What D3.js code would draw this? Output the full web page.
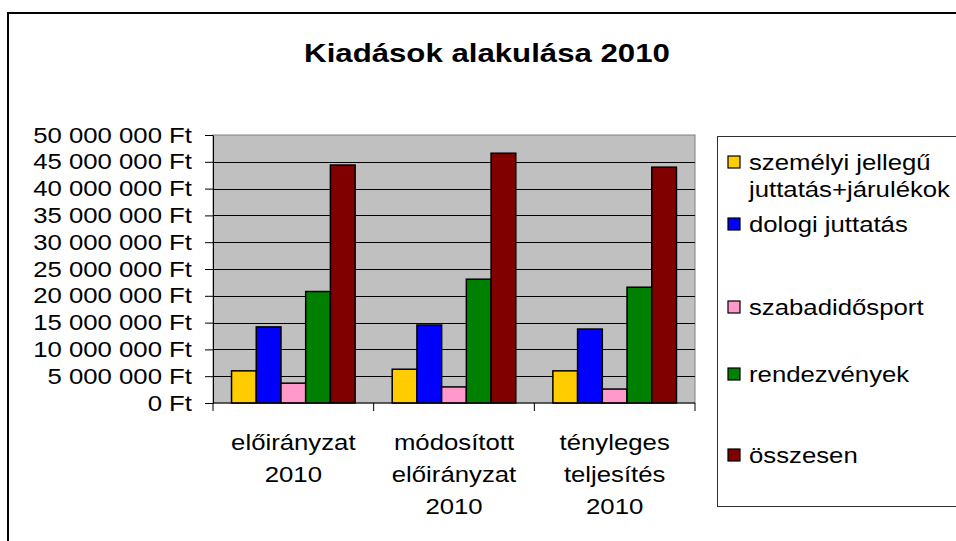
<!DOCTYPE html>
<html>
<head>
<meta charset="utf-8">
<script src="https://cdnjs.cloudflare.com/ajax/libs/d3/7.8.5/d3.min.js"></script>
<style>
  body { margin: 0; background: #fff; }
  svg { display: block; font-family: "Liberation Sans", Arial, sans-serif; }
</style>
</head>
<body>
<script>
// chart data
var title = "Kiadások alakulása 2010";
var categories = [
    ["előirányzat", "2010"],
    ["módosított", "előirányzat", "2010"],
    ["tényleges", "teljesítés", "2010"]
];
var seriesNames = [
    ["személyi jellegű", "juttatás+járulékok"],
    ["dologi juttatás"],
    ["szabadidősport"],
    ["rendezvények"],
    ["összesen"]
];
var seriesColors = ["#ffcc00", "#0000ff", "#ff99cc", "#008000", "#800000"];
var szemelyi = [6000000, 6300000, 6000000];
var dologi = [14200000, 14550000, 13800000];
var szabadido = [3700000, 3000000, 2600000];
var rendezveny = [20800000, 23100000, 21600000];
var osszesen = [44400000, 46600000, 44000000];
var yTicks = [0, 5000000, 10000000, 15000000, 20000000, 25000000, 30000000, 35000000, 40000000, 45000000, 50000000];

var values = [szemelyi, dologi, szabadido, rendezveny, osszesen];

var window_w = 956, window_h = 541;
var plot = {left: 213, top: 135, right: 695, bottom: 403};
var stretch = 1.17;   // the original text is drawn a bit wider than Arial

var svg = d3.select("body").append("svg")
    .attr("width", window_w).attr("height", window_h);

// outer chart border
svg.append("rect")
    .attr("x", 8).attr("y", 13)
    .attr("width", 970).attr("height", 560)
    .attr("fill", "#fff").attr("stroke", "#000").attr("stroke-width", 2);

svg.append("text")
    .attr("transform", "translate(487,62) scale(1.2,1)")
    .attr("text-anchor", "middle")
    .style("font-size", "26px").style("font-weight", "bold")
    .text(title);

var hu = d3.formatLocale({decimal: ",", thousands: " ", grouping: [3], currency: ["", " Ft"]});
var fmt = hu.format("$,");

var xScale = d3.scaleBand()
    .domain(d3.range(categories.length))
    .range([plot.left, plot.right]);
var xInner = d3.scaleBand()
    .domain(d3.range(values.length))
    .range([0, xScale.bandwidth()])
    .paddingInner(0).paddingOuter(0.75);
var yScale = d3.scaleLinear().domain([0, 50000000]).range([plot.bottom, plot.top]);

// plot area
svg.append("rect")
    .attr("x", plot.left).attr("y", plot.top)
    .attr("width", plot.right - plot.left).attr("height", plot.bottom - plot.top)
    .attr("fill", "#c0c0c0").attr("stroke", "#808080").attr("stroke-width", 1);

// gridlines
svg.append("g").selectAll("line")
    .data(yTicks.filter(function (d) { return d > 0 && d < 50000000; }))
    .enter().append("line")
    .attr("x1", plot.left).attr("x2", plot.right)
    .attr("y1", function (d) { return Math.round(yScale(d)) + 0.5; })
    .attr("y2", function (d) { return Math.round(yScale(d)) + 0.5; })
    .attr("stroke", "#000").attr("stroke-width", 1);

// bars
for (var s = 0; s < values.length; s++) {
    svg.append("g").selectAll("rect")
        .data(values[s])
        .enter().append("rect")
        .attr("x", function (d, i) { return xScale(i) + xInner(s); })
        .attr("y", function (d) { return yScale(d); })
        .attr("width", xInner.bandwidth())
        .attr("height", function (d) { return plot.bottom - yScale(d); })
        .attr("fill", seriesColors[s])
        .attr("stroke", "#000").attr("stroke-width", 1.5);
}

// y axis
var yAxis = d3.axisLeft(yScale)
    .tickValues(yTicks)
    .tickFormat(fmt)
    .tickSize(8).tickSizeOuter(0).tickPadding(12);
var yAxisG = svg.append("g")
    .attr("transform", "translate(" + plot.left + ",0)")
    .call(yAxis);
yAxisG.selectAll("text")
    .attr("x", 0)
    .attr("transform", "translate(-21,0) scale(" + stretch + ",1)")
    .style("font-size", "22px")
    .attr("fill", "#000")
    .attr("font-family", null);
yAxisG.selectAll("line, path").attr("stroke", "#000");

// x axis
var xAxisG = svg.append("g")
    .attr("transform", "translate(0," + plot.bottom + ")");
xAxisG.append("line")
    .attr("x1", plot.left).attr("x2", plot.right)
    .attr("stroke", "#000");
xAxisG.selectAll("line.tick")
    .data(d3.range(categories.length + 1))
    .enter().append("line")
    .attr("class", "tick")
    .attr("x1", function (d) { return d < categories.length ? xScale(d) : plot.right; })
    .attr("x2", function (d) { return d < categories.length ? xScale(d) : plot.right; })
    .attr("y1", 0).attr("y2", 8)
    .attr("stroke", "#000");
var catLabel = xAxisG.selectAll("text.cat")
    .data(categories)
    .enter().append("text")
    .attr("class", "cat")
    .attr("transform", function (d, i) {
        return "translate(" + (xScale(i) + xScale.bandwidth() / 2) + ",0) scale(" + stretch + ",1)";
    })
    .attr("text-anchor", "middle")
    .style("font-size", "22px");
catLabel.selectAll("tspan")
    .data(function (d) { return d; })
    .enter().append("tspan")
    .attr("x", 0)
    .attr("y", function (d, j) { return 47 + j * 32; })
    .text(function (d) { return d; });

// legend
svg.append("rect")
    .attr("x", 717.5).attr("y", 136.5)
    .attr("width", 260).attr("height", 370)
    .attr("fill", "#fff").attr("stroke", "#303030").attr("stroke-width", 1);

var legendBase = [170, 232, 315, 382, 463];
var legend = svg.append("g").selectAll("g")
    .data(seriesNames)
    .enter().append("g");
legend.append("rect")
    .attr("x", 728).attr("y", function (d, i) { return legendBase[i] - 14; })
    .attr("width", 12).attr("height", 12)
    .attr("fill", function (d, i) { return seriesColors[i]; })
    .attr("stroke", "#000").attr("stroke-width", 1.2);
legend.append("text")
    .attr("transform", "translate(749,0) scale(" + stretch + ",1)")
    .style("font-size", "22px")
    .selectAll("tspan")
    .data(function (d, i) { return d.map(function (t) { return {t: t, i: i}; }); })
    .enter().append("tspan")
    .attr("x", 0)
    .attr("y", function (d, j) { return legendBase[d.i] + j * 27; })
    .text(function (d) { return d.t; });
</script>
</body>
</html>
